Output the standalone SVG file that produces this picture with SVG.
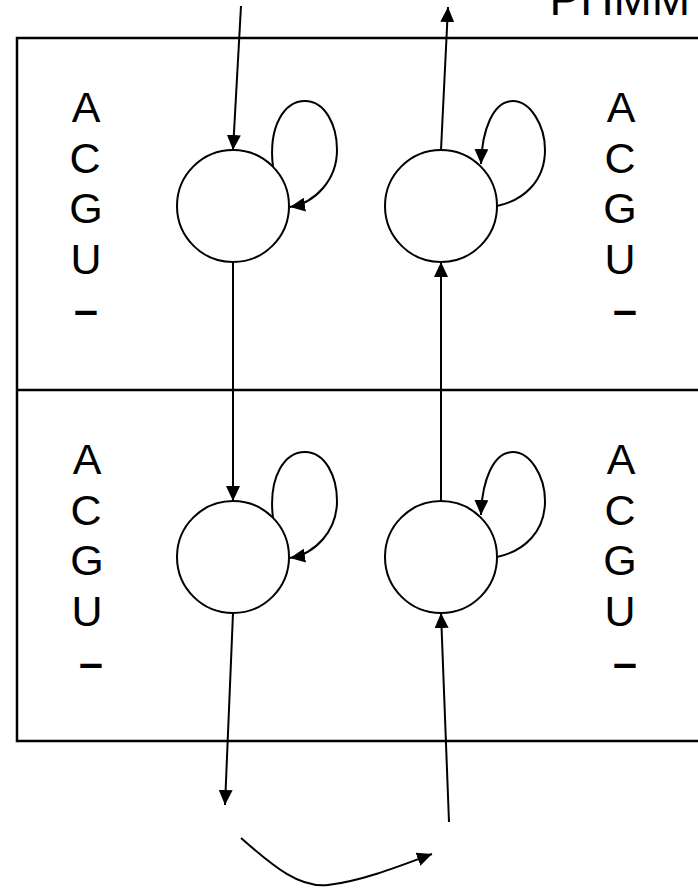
<svg xmlns="http://www.w3.org/2000/svg" width="698" height="889" viewBox="0 0 698 889">
  <style>
    .frame { fill: none; stroke: #000; stroke-width: 2.5; }
    .state { fill: #fff; stroke: #000; stroke-width: 2; }
    .edge { fill: none; stroke: #000; stroke-width: 2; marker-end: url(#arrow); }
    .sym { font-family: "Liberation Sans", Arial, sans-serif; font-size: 43px; fill: #000; text-anchor: middle; }
    .gap { font-weight: bold; }
    .title { font-family: "Liberation Sans", Arial, sans-serif; font-size: 46px; fill: #000; }
  </style>
  <defs>
    <marker id="arrow" viewBox="0 0 15 14" refX="15" refY="7" markerWidth="15" markerHeight="14" markerUnits="userSpaceOnUse" orient="auto">
      <path d="M0,0 L15,7 L0,14 z" fill="#000"/>
    </marker>
  </defs>
  <rect width="698" height="889" fill="#fff"/>

  <g id="title">
    <text class="title" x="549.5" y="15">PHMM</text>
  </g>

  <g id="frame">
    <rect class="frame" x="17" y="38" width="700" height="703"/>
    <line class="frame" x1="17" y1="390" x2="698" y2="390"/>
  </g>

  <g id="emit-top-left">
    <text class="sym" x="86" y="122">A</text>
    <text class="sym" x="85" y="173">C</text>
    <text class="sym" x="86" y="223">G</text>
    <text class="sym" x="86" y="274">U</text>
    <text class="sym gap" x="86" y="324">–</text>
  </g>
  <g id="emit-top-right">
    <text class="sym" x="621" y="122">A</text>
    <text class="sym" x="620" y="173">C</text>
    <text class="sym" x="620" y="223">G</text>
    <text class="sym" x="620" y="274">U</text>
    <text class="sym gap" x="625" y="324">–</text>
  </g>
  <g id="emit-bottom-left">
    <text class="sym" x="87" y="474">A</text>
    <text class="sym" x="86" y="525">C</text>
    <text class="sym" x="87" y="575">G</text>
    <text class="sym" x="87" y="626">U</text>
    <text class="sym gap" x="91" y="677">–</text>
  </g>
  <g id="emit-bottom-right">
    <text class="sym" x="621" y="474">A</text>
    <text class="sym" x="620" y="525">C</text>
    <text class="sym" x="620" y="575">G</text>
    <text class="sym" x="620" y="626">U</text>
    <text class="sym gap" x="625" y="677">–</text>
  </g>

  <g id="state-top-left"><circle class="state" cx="233" cy="206" r="56"/></g>
  <g id="state-top-right"><circle class="state" cx="441" cy="206" r="56"/></g>
  <g id="state-bottom-left"><circle class="state" cx="233" cy="557" r="56"/></g>
  <g id="state-bottom-right"><circle class="state" cx="441" cy="557" r="56"/></g>

  <g id="connectors">
    <path class="edge" d="M241,6 L233,150"/>
    <path class="edge" d="M273,167 C268,125 285,101 305,101 C325,101 337,125 337,150 C337,180 315,203 290,207"/>
    <path class="edge" d="M441,150 L448,7"/>
    <path class="edge" d="M497,206 C525,200 545,180 545,150 C545,125 530,101 513,101 C493,101 482,130 481,164"/>
    <path class="edge" d="M233,262 L233,501"/>
    <path class="edge" d="M441,501 L441,262"/>
    <path class="edge" d="M273,518 C268,476 285,452 305,452 C325,452 337,476 337,501 C337,531 315,554 290,558"/>
    <path class="edge" d="M497,557 C525,551 545,531 545,501 C545,476 530,452 513,452 C493,452 482,481 481,515"/>
    <path class="edge" d="M233,613 L225,805"/>
    <path class="edge" d="M449,822 L441,613"/>
    <path class="edge" d="M241,838 C275,868 300,888 328,885 C362,881 400,866 432,854"/>
  </g>
</svg>
